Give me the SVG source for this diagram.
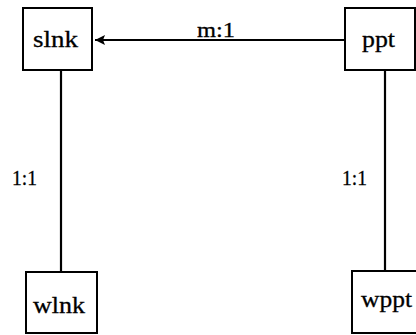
<svg xmlns="http://www.w3.org/2000/svg" width="416" height="335" viewBox="0 0 416 335">
<style>
.box{fill:#fff;stroke:#000;stroke-width:2}
.t{font-family:"Liberation Serif","Times New Roman",serif;font-size:24px;fill:#000;stroke:#000;stroke-width:0.3}
.l{font-family:"Liberation Serif","Times New Roman",serif;font-size:22px;fill:#000;stroke:#000;stroke-width:0.3}
.c{stroke:#000;stroke-width:2.2;fill:none}
</style>
<defs>
<marker id="arr" markerUnits="userSpaceOnUse" markerWidth="12" markerHeight="12" refX="10" refY="6" orient="auto">
<path d="M0,1 L10,6 L0,11 L2,6 Z" fill="#000"/>
</marker>
</defs>
<rect width="416" height="335" fill="#fff"/>
<g id="connectors">
<line class="c" x1="345" y1="40" x2="95" y2="40" marker-end="url(#arr)"/>
<line class="c" x1="61" y1="70" x2="61" y2="272"/>
<line class="c" x1="385" y1="70" x2="385" y2="271"/>
<text class="l" x="197" y="37" textLength="38" lengthAdjust="spacingAndGlyphs">m:1</text>
<text class="l" x="12" y="185" textLength="25" lengthAdjust="spacingAndGlyphs">1:1</text>
<text class="l" x="342" y="185" textLength="25" lengthAdjust="spacingAndGlyphs">1:1</text>
</g>
<g id="slnk">
<rect class="box" x="23" y="8" width="69" height="62"/>
<text class="t" x="33" y="47" textLength="45" lengthAdjust="spacingAndGlyphs">slnk</text>
</g>
<g id="ppt">
<rect class="box" x="345" y="8" width="70" height="62"/>
<text class="t" x="362" y="47" textLength="33" lengthAdjust="spacingAndGlyphs">ppt</text>
</g>
<g id="wlnk">
<rect class="box" x="26" y="272" width="71" height="61"/>
<text class="t" x="33" y="313" textLength="52" lengthAdjust="spacingAndGlyphs">wlnk</text>
</g>
<g id="wppt">
<rect class="box" x="352" y="271" width="70" height="62"/>
<text class="t" x="361" y="307" textLength="51" lengthAdjust="spacingAndGlyphs">wppt</text>
</g>
</svg>
